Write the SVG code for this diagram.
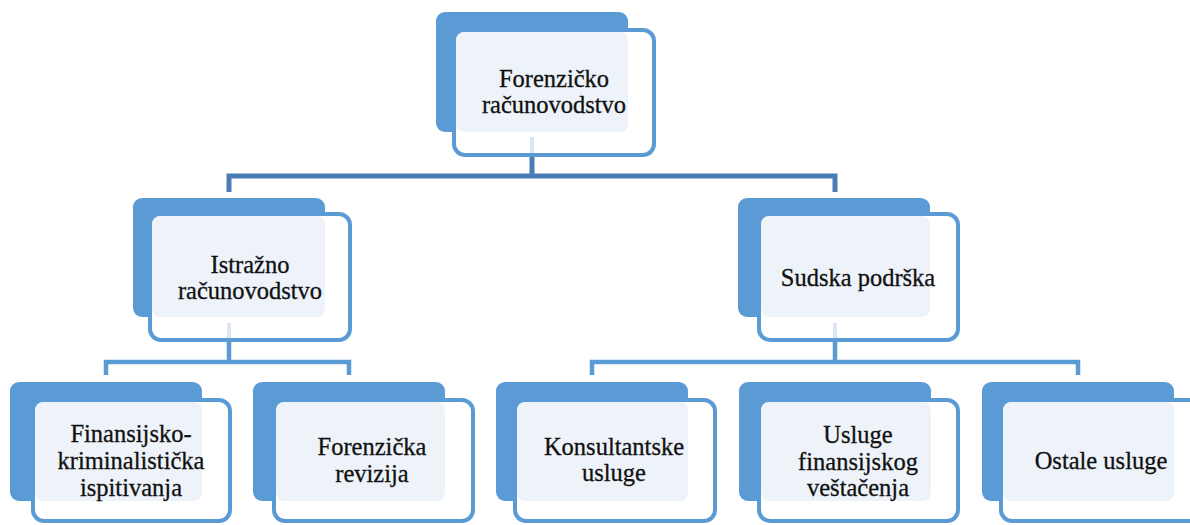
<svg xmlns="http://www.w3.org/2000/svg" width="1190" height="525" viewBox="0 0 1190 525">
<rect width="1190" height="525" fill="#ffffff"/>
<g id="connectors" fill="none">
<g stroke="#4a7db6" stroke-width="5">
<path d="M229,192 V176 H835 V192"/>
<path d="M532,155 V176"/>
</g>
<g stroke="#5b9bd5" stroke-width="4.5">
<path d="M106,375 V362 H349 V375"/>
<path d="M229,340 V362"/>
<path d="M592,375 V362 H1078 V375"/>
<path d="M835,340 V362"/>
</g>
</g>
<g id="nodes" font-family="'Liberation Serif', serif" font-size="24.5" text-anchor="middle">
<g id="n-forenzicko">
<rect fill="#5b9bd5" x="436" y="12" width="192" height="120" rx="9"/>
<rect fill="#ffffff" stroke="#5b9bd5" stroke-width="4" x="454" y="30" width="200" height="125" rx="11"/>
<rect fill="#eef3fa" x="456" y="32" width="172" height="100" rx="8"/>
<line stroke="#dde7f3" stroke-width="4" x1="532" y1="137" x2="532" y2="153"/>
<text fill="#111" stroke="#111" stroke-width="0.3" x="554" y="87">Forenzičko</text>
<text fill="#111" stroke="#111" stroke-width="0.3" x="554" y="113">računovodstvo</text>
</g>
<g id="n-istrazno">
<rect fill="#5b9bd5" x="133" y="198" width="192" height="119" rx="9"/>
<rect fill="#ffffff" stroke="#5b9bd5" stroke-width="4" x="150" y="214" width="200" height="126" rx="11"/>
<rect fill="#eef3fa" x="152" y="216" width="173" height="101" rx="8"/>
<line stroke="#dde7f3" stroke-width="4" x1="229" y1="323" x2="229" y2="338"/>
<text fill="#111" stroke="#111" stroke-width="0.3" x="250" y="273">Istražno</text>
<text fill="#111" stroke="#111" stroke-width="0.3" x="250" y="299">računovodstvo</text>
</g>
<g id="n-sudska">
<rect fill="#5b9bd5" x="738" y="198" width="192" height="119" rx="9"/>
<rect fill="#ffffff" stroke="#5b9bd5" stroke-width="4" x="759" y="214" width="199" height="126" rx="11"/>
<rect fill="#eef3fa" x="761" y="216" width="169" height="101" rx="8"/>
<line stroke="#dde7f3" stroke-width="4" x1="835" y1="323" x2="835" y2="338"/>
<text fill="#111" stroke="#111" stroke-width="0.3" x="858" y="286">Sudska podrška</text>
</g>
<g id="n-finansijsko">
<rect fill="#5b9bd5" x="10" y="382" width="192" height="119" rx="9"/>
<rect fill="#ffffff" stroke="#5b9bd5" stroke-width="4" x="33" y="400" width="197" height="121" rx="11"/>
<rect fill="#eef3fa" x="35" y="402" width="167" height="99" rx="8"/>
<text fill="#111" stroke="#111" stroke-width="0.3" x="131" y="442">Finansijsko-</text>
<text fill="#111" stroke="#111" stroke-width="0.3" x="131" y="469">kriminalistička</text>
<text fill="#111" stroke="#111" stroke-width="0.3" x="131" y="496">ispitivanja</text>
</g>
<g id="n-revizija">
<rect fill="#5b9bd5" x="253" y="382" width="192" height="119" rx="9"/>
<rect fill="#ffffff" stroke="#5b9bd5" stroke-width="4" x="274" y="400" width="199" height="121" rx="11"/>
<rect fill="#eef3fa" x="276" y="402" width="169" height="99" rx="8"/>
<text fill="#111" stroke="#111" stroke-width="0.3" x="372" y="455">Forenzička</text>
<text fill="#111" stroke="#111" stroke-width="0.3" x="372" y="482">revizija</text>
</g>
<g id="n-konsultantske">
<rect fill="#5b9bd5" x="496" y="382" width="192" height="119" rx="9"/>
<rect fill="#ffffff" stroke="#5b9bd5" stroke-width="4" x="515" y="400" width="200" height="121" rx="11"/>
<rect fill="#eef3fa" x="517" y="402" width="171" height="99" rx="8"/>
<text fill="#111" stroke="#111" stroke-width="0.3" x="614" y="455">Konsultantske</text>
<text fill="#111" stroke="#111" stroke-width="0.3" x="614" y="481">usluge</text>
</g>
<g id="n-vestacenja">
<rect fill="#5b9bd5" x="739" y="382" width="192" height="119" rx="9"/>
<rect fill="#ffffff" stroke="#5b9bd5" stroke-width="4" x="759" y="400" width="199" height="121" rx="11"/>
<rect fill="#eef3fa" x="761" y="402" width="170" height="99" rx="8"/>
<text fill="#111" stroke="#111" stroke-width="0.3" x="858" y="443">Usluge</text>
<text fill="#111" stroke="#111" stroke-width="0.3" x="858" y="470">finansijskog</text>
<text fill="#111" stroke="#111" stroke-width="0.3" x="858" y="496">veštačenja</text>
</g>
<g id="n-ostale">
<rect fill="#5b9bd5" x="982" y="382" width="192" height="119" rx="9"/>
<rect fill="#ffffff" stroke="#5b9bd5" stroke-width="4" x="1001" y="400" width="200" height="121" rx="11"/>
<rect fill="#eef3fa" x="1003" y="402" width="171" height="99" rx="8"/>
<text fill="#111" stroke="#111" stroke-width="0.3" x="1101" y="469">Ostale usluge</text>
</g>
</g>
</svg>
